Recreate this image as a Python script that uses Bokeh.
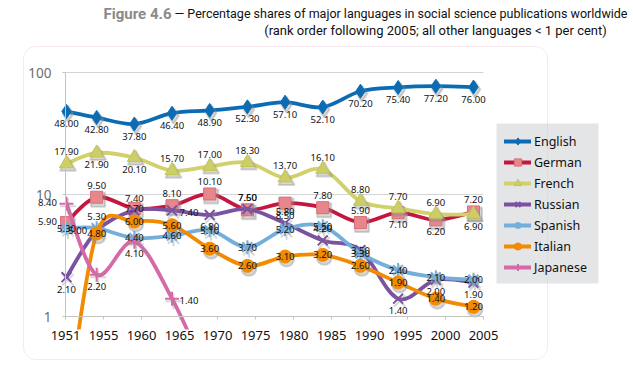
import math
from bokeh.plotting import figure
from bokeh.models import (ColumnDataSource, Legend, LegendItem, FixedTicker, Label,
                          BoxAnnotation, Range1d, LogAxis, LinearAxis)
from bokeh.embed import file_html
from bokeh.resources import INLINE
from bokeh.core.properties import value

# ---------------- data ----------------
years = [1951, 1955, 1960, 1965, 1970, 1975, 1980, 1985, 1990, 1995, 2000, 2005]
year_labels = ["1951", "1955", "1960", "1965", "1970", "1975", "1980", "1985", "1990", "1995", "2000", "2005"]
y_ticks = [1, 10, 100]
y_tick_labels = ["1", "10", "100"]

english = [48.00, 42.80, 37.80, 46.40, 48.90, 52.30, 57.10, 52.10, 70.20, 75.40, 77.20, 76.00]
german  = [5.90, 9.50, 7.70, 8.10, 10.10, 7.50, 8.50, 7.80, 5.90, 7.10, 6.20, 7.20]
french  = [17.90, 21.90, 20.10, 15.70, 17.00, 18.30, 13.70, 16.10, 8.80, 7.70, 6.90, 6.90]
russian = [2.10, 5.00, 7.40, 7.40, 6.80, 7.60, 5.80, 4.20, 3.50, 1.40, 2.00, 1.90]
spanish = [5.30, 5.30, 4.40, 4.60, 5.10, 3.70, 5.20, 5.50, 3.30, 2.40, 2.10, 2.00]
italian = [0.15, 4.80, 6.00, 5.60, 3.60, 2.60, 3.10, 3.20, 2.60, 1.90, 1.40, 1.20]
japanese_years = [1951, 1955, 1960, 1965, 1970]
japanese = [8.40, 2.20, 4.10, 1.40, 0.30]

# label placement codes (style only): b=below a=above l=left r=right c=centre n=none
pl_english  = "bbbbbbbbbbbb"
pl_german   = "lacaaabaabba"
pl_french   = "abbaaaaaaaab"
pl_russian  = "blarbaaacbbb"
pl_spanish  = "cacccccccccc"
pl_italian  = "nccccccccccc"
pl_japanese = "lbbrn"

# ---------------- layout constants (pixels) ----------------
W, H = 630, 365
X0_PX, X_PER_YEAR = 66, 7.537      # pixel of first year, pixels per year
Y1_PX, Y_PER_DEC = 316, 122        # pixel of value 1, pixels per decade
AXIS_L_PX, AXIS_R_PX, CLIP_PX = 65, 483, 329


def x_at(px):
    return years[0] + (px - X0_PX) / X_PER_YEAR


def y_at(py):
    return 10 ** ((Y1_PX - py) / Y_PER_DEC)


FONT = "Noto Sans"
p = figure(width=W, height=H, output_backend="svg", toolbar_location=None, title=None,
           y_axis_type="log", x_range=Range1d(x_at(0), x_at(W)), y_range=Range1d(y_at(H), y_at(0)),
           min_border_left=0, min_border_right=0, min_border_top=0, min_border_bottom=0,
           x_axis_location=None, y_axis_location=None)
p.outline_line_color = None
p.background_fill_color = "white"
p.border_fill_color = "white"
p.xgrid.grid_line_color = None
p.ygrid.grid_line_color = None

# axes (drawn at fixed locations inside the full-canvas frame)
yax = LogAxis(ticker=FixedTicker(ticks=y_ticks, minor_ticks=[]), fixed_location=x_at(AXIS_L_PX),
              bounds=(y_ticks[0], y_ticks[-1]))
yax.major_label_overrides = {t: s for t, s in zip(y_ticks, y_tick_labels)}
yax.axis_line_color = "#c4c4c4"
yax.major_tick_line_color = "#c4c4c4"
yax.major_tick_out = 3
yax.major_tick_in = 0
yax.minor_tick_out = 0
yax.minor_tick_in = 0
yax.major_label_standoff = 11
yax.major_label_text_font = FONT
yax.major_label_text_font_size = "13.5px"
yax.major_label_text_color = "#6e6e6e"
p.add_layout(yax, "left")

xa0, xa1 = x_at(AXIS_L_PX), x_at(AXIS_R_PX)
step = (xa1 - xa0) / (len(years) - 1)
xticks = [round(xa0 + k * step, 4) for k in range(len(years))]
xax = LinearAxis(ticker=FixedTicker(ticks=xticks, minor_ticks=[]), fixed_location=y_ticks[0],
                 bounds=(xa0, xa1))
xax.major_label_overrides = {t: lab for t, lab in zip(xticks, year_labels)}
xax.axis_line_color = "#c4c4c4"
xax.major_tick_line_color = "#c4c4c4"
xax.major_tick_out = 3
xax.major_tick_in = 0
xax.minor_tick_out = 0
xax.minor_tick_in = 0
xax.major_label_standoff = 11
xax.major_label_text_font = FONT
xax.major_label_text_font_size = "13px"
xax.major_label_text_color = "#111111"
p.add_layout(xax, "below")

# horizontal grid lines at 10 and 100, limited to the plot area
p.segment(x0=xa0, x1=xa1, y0=y_ticks[1:], y1=y_ticks[1:], line_color="#d4d4d4", line_width=1)


def smooth(xs, ys):
    lx = list(xs)
    ly = [math.log10(v) for v in ys]
    n = len(lx)
    out = dict(x0=[], y0=[], x1=[], y1=[], cx0=[], cy0=[], cx1=[], cy1=[])
    for i in range(n - 1):
        a = i - 1 if i > 0 else i
        d = i + 2 if i + 2 < n else i + 1
        c1x = lx[i] + (lx[i + 1] - lx[a]) / 6
        c1y = ly[i] + (ly[i + 1] - ly[a]) / 6
        c2x = lx[i + 1] - (lx[d] - lx[i]) / 6
        c2y = ly[i + 1] - (ly[d] - ly[i]) / 6
        out["x0"].append(lx[i]); out["y0"].append(10 ** ly[i])
        out["x1"].append(lx[i + 1]); out["y1"].append(10 ** ly[i + 1])
        out["cx0"].append(c1x); out["cy0"].append(10 ** c1y)
        out["cx1"].append(c2x); out["cy1"].append(10 ** c2y)
    return ColumnDataSource(out)


OFF = {"b": (0, 12), "a": (0, -12), "l": (-19, -1), "r": (17, 2), "c": (0, 0)}
SHADOW_DX, SHADOW_DY = 1.5, 2.5   # pixel offset of the soft marker shadow

series = [
    ("English", years, english, pl_english, "#0b6cb4", "diamond", 14, "#0b6cb4", "#0b6cb4"),
    ("German", years, german, pl_german, "#c4173f", "square", 12, "#e8868d", "#d8707a"),
    ("French", years, french, pl_french, "#d0d16a", "triangle", 14, "#cdce66", "#c2c35a"),
    ("Russian", years, russian, pl_russian, "#7b529f", "x", 14, None, "#7b529f"),
    ("Spanish", years, spanish, pl_spanish, "#74aedb", "asterisk", 14, None, "#74aedb"),
    ("Italian", years, italian, pl_italian, "#f28a02", "circle", 13, "#f28a02", "#f28a02"),
    ("Japanese", japanese_years, japanese, pl_japanese, "#d56aa8", "cross", 14, None, "#d56aa8"),
]

items = []
label_sets = []
for name, xs, ys, pl, lc, mk, ms, fc, mc in series:
    src = smooth(xs, ys)
    br = p.bezier(x0="x0", y0="y0", x1="x1", y1="y1", cx0="cx0", cy0="cy0", cx1="cx1", cy1="cy1",
                  source=src, line_color=lc, line_width=3.8, line_cap="round")
    # soft grey shadow, a couple of pixels below-right of each marker
    sx = [x + SHADOW_DX / X_PER_YEAR for x in xs]
    sy = [y * 10 ** (-SHADOW_DY / Y_PER_DEC) for y in ys]
    p.scatter(sx, sy, marker=mk, size=ms + 2, fill_color="#8c8c8c" if fc else None,
              line_color="#8c8c8c", fill_alpha=0.35, line_alpha=0.35, line_width=2)
    sr = p.scatter(xs, ys, marker=mk, size=ms, fill_color=fc, line_color=mc,
                   line_width=2 if fc is None else 1)
    items.append(LegendItem(label=name, renderers=[br, sr]))
    lx, ly, lt, xo, yo = [], [], [], [], []
    for x, y, c in zip(xs, ys, pl):
        if c == "n":
            continue
        lx.append(x); ly.append(y); lt.append("%.2f" % y)
        xo.append(OFF[c][0]); yo.append(OFF[c][1])
    label_sets.append(ColumnDataSource(dict(x=lx, y=ly, t=lt, xo=xo, yo=yo)))

# white mask: lines that fall below the axis are cut a little under it, as in the original
p.quad(left=x_at(0), right=x_at(W), bottom=y_at(H), top=y_at(CLIP_PX),
       fill_color="white", line_color=None)

for ls in label_sets:
    p.text(x="x", y="y", text="t", x_offset="xo", y_offset="yo", source=ls,
           text_font=value(FONT), text_font_size="9.5px", text_color="#111111",
           text_align="center", text_baseline="middle")

# grey legend panel (screen units, y measured up from the bottom)
legend_bg = BoxAnnotation(left=496, right=598, top=H - 123, bottom=H - 283,
                          left_units="screen", right_units="screen", top_units="screen",
                          bottom_units="screen", fill_color="#e4e5e7", fill_alpha=1, line_color=None)
p.add_layout(legend_bg)

legend = Legend(items=items, location=(504, H - 276))
legend.background_fill_alpha = 0
legend.border_line_color = None
legend.label_text_font = FONT
legend.label_text_font_size = "12.5px"
legend.label_text_color = "#111111"
legend.glyph_width = 27
legend.glyph_height = 18
legend.spacing = 3
legend.padding = 11
legend.label_standoff = 3
legend.margin = 0
p.add_layout(legend)

# pink rounded panel around the chart
box = BoxAnnotation(left=23, right=547, top=H - 46, bottom=H - 359,
                    left_units="screen", right_units="screen", top_units="screen", bottom_units="screen",
                    fill_alpha=0, line_color="#e8b7cf", line_width=1, border_radius=12, level="overlay")
p.add_layout(box)

# title
t1 = Label(x=171, y=H - 13, x_units="screen", y_units="screen", text="Figure 4.6",
           text_font="Roboto", text_font_size="15px", text_font_style="bold", text_color="#8a8a8a",
           text_align="right", text_baseline="middle")
t2 = Label(x=627, y=H - 13, x_units="screen", y_units="screen",
           text="\u2014 Percentage shares of major languages in social science publications worldwide",
           text_font="Roboto", text_font_size="12.5px", text_color="#111111",
           text_align="right", text_baseline="middle")
t3 = Label(x=435, y=H - 30, x_units="screen", y_units="screen",
           text="(rank order following 2005; all other languages < 1 per cent)",
           text_font="Roboto", text_font_size="13px", text_color="#111111",
           text_align="center", text_baseline="middle")
for t in (t1, t2, t3):
    p.add_layout(t)

open("out.html", "w").write(file_html(p, INLINE))
